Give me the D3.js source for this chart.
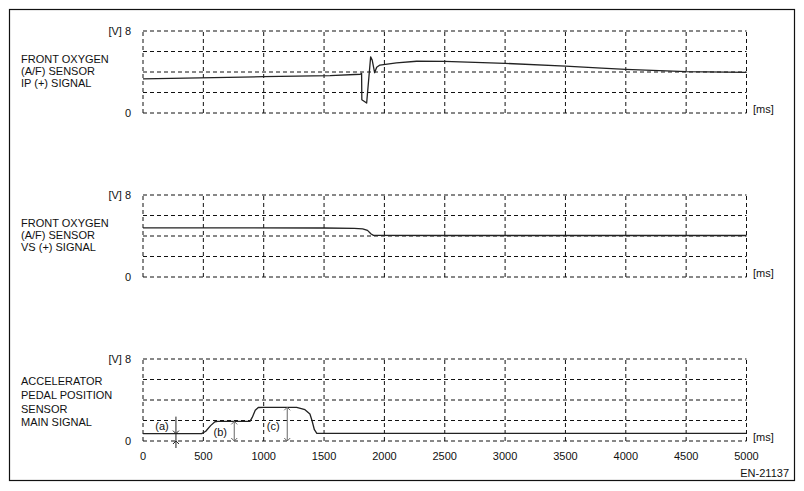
<!DOCTYPE html>
<html>
<head>
<meta charset="utf-8">
<script src="https://cdn.jsdelivr.net/npm/d3@7"></script>
<style>
  body { margin: 0; background: #fff; }
  text { font-family: "Liberation Sans", Arial, sans-serif; fill: #111; }
</style>
</head>
<body>
<div id="chart"></div>
<script>
// time axis (ms) and voltage grid (V)
const xTicks = [0, 500, 1000, 1500, 2000, 2500, 3000, 3500, 4000, 4500, 5000];
const yTicks = [0, 2, 4, 6, 8];

// front oxygen (A/F) sensor IP (+) signal: [ms, V]
const ipSignal = [
  [0, 3.32], [1000, 3.54], [1550, 3.64], [1800, 3.78], [1811, 3.87],
  [1813, 1.29], [1853, 0.97], [1886, 5.48], [1899, 5.16], [1919, 3.93],
  [1936, 4.46], [1963, 4.68], [2100, 4.9], [2267, 5.05], [2500, 5.03],
  [3000, 4.84], [3500, 4.58], [3800, 4.38], [4000, 4.25], [4500, 4.03], [5000, 3.97]
];

// front oxygen (A/F) sensor VS (+) signal
const vsSignal = [
  [0, 4.8], [1500, 4.78], [1750, 4.75], [1820, 4.7], [1860, 4.55],
  [1890, 4.2], [1910, 4.06], [2500, 4.05], [5000, 4.05]
];

// accelerator pedal position sensor main signal
const appsSignal = [
  [0, 0.72], [486, 0.72], [520, 0.95], [560, 1.5], [596, 1.88], [620, 1.91],
  [886, 1.91], [905, 2.3], [930, 3.0], [955, 3.27], [1000, 3.29], [1273, 3.29],
  [1342, 3.06], [1383, 2.64], [1400, 2.0], [1420, 1.1], [1440, 0.74], [5000, 0.74]
];

const panelLabels = [
  ["FRONT OXYGEN", "(A/F) SENSOR", "IP (+) SIGNAL"],
  ["FRONT OXYGEN", "(A/F) SENSOR", "VS (+) SIGNAL"],
  ["ACCELERATOR", "PEDAL POSITION", "SENSOR", "MAIN SIGNAL"]
];

// measurement markers on the pedal signal
const markerLabels = ["(a)", "(b)", "(c)"];
const markerTimes = [273, 756, 1195];
const markerValues = [0.72, 1.91, 3.29];

const width = 804, height = 491;
const panelTops = [31, 195, 359];
const panelH = 82;

const svg = d3.select("#chart")
  .append("svg")
  .attr("width", width)
  .attr("height", height);

// outer frame
svg.append("rect")
  .attr("x", 9.5).attr("y", 9.5)
  .attr("width", 785).attr("height", 471)
  .attr("fill", "none")
  .attr("stroke", "#111")
  .attr("stroke-width", 1.2);

const x = d3.scaleLinear().domain([0, 5000]).range([143, 746.5]);

const signals = [ipSignal, vsSignal, appsSignal];
const line = d3.line().x(d => x(d[0]));

panelTops.forEach((top, i) => {
  const y = d3.scaleLinear().domain([0, 8]).range([top + panelH, top]);
  const g = svg.append("g");

  // dashed grid
  g.selectAll(".hgrid")
    .data(yTicks)
    .enter().append("line")
    .attr("x1", x(0)).attr("x2", x(5000))
    .attr("y1", d => y(d)).attr("y2", d => y(d))
    .attr("stroke", "#111").attr("stroke-width", 1)
    .attr("stroke-dasharray", "4,3");

  g.selectAll(".vgrid")
    .data(xTicks)
    .enter().append("line")
    .attr("x1", d => x(d)).attr("x2", d => x(d))
    .attr("y1", y(0)).attr("y2", y(8))
    .attr("stroke", "#111").attr("stroke-width", 1)
    .attr("stroke-dasharray", "4,3");

  // axis labels
  g.append("text")
    .attr("x", 131).attr("y", y(8) + 4)
    .attr("text-anchor", "end")
    .style("font-size", "11px")
    .text("[V] 8");
  g.append("text")
    .attr("x", 131).attr("y", y(0) + 4)
    .attr("text-anchor", "end")
    .style("font-size", "11px")
    .text("0");
  g.append("text")
    .attr("x", 753).attr("y", y(0) - 0.5)
    .style("font-size", "11px")
    .text("[ms]");

  // panel title
  const step = i === 2 ? 13.8 : 12.2;
  const first = i === 2 ? top + 26 : top + 31.5;
  g.selectAll(".lbl")
    .data(panelLabels[i])
    .enter().append("text")
    .attr("x", 21)
    .attr("y", (d, k) => first + k * step)
    .style("font-size", "11px")
    .text(d => d);

  // signal trace
  g.append("path")
    .datum(signals[i])
    .attr("d", line.y(d => y(d[1])))
    .attr("fill", "none")
    .attr("stroke", "#222")
    .attr("stroke-width", 1.3)
    .attr("stroke-linejoin", "round");

  if (i === 2) {
    // x tick labels
    g.selectAll(".xt")
      .data(xTicks)
      .enter().append("text")
      .attr("x", d => x(d))
      .attr("y", 460)
      .attr("text-anchor", "middle")
      .style("font-size", "11px")
      .text(d => d);

    const ah = 3; // arrowhead size
    markerTimes.forEach((t, k) => {
      const mx = x(t), y0 = y(0), y1 = y(markerValues[k]);
      const mg = g.append("g")
        .attr("fill", "none")
        .attr("stroke", k === 0 ? "#222" : "#666")
        .attr("stroke-width", 1);
      if (k === 0) {
        // pointer from outside: down onto signal, up onto zero
        mg.append("line").attr("x1", mx).attr("x2", mx)
          .attr("y1", y1 - 17).attr("y2", y0 + 7);
        mg.append("path").attr("d", `M${mx - ah},${y1 - ah}L${mx},${y1}L${mx + ah},${y1 - ah}`);
        mg.append("path").attr("d", `M${mx - ah},${y0 + ah}L${mx},${y0}L${mx + ah},${y0 + ah}`);
      } else {
        mg.append("line").attr("x1", mx).attr("x2", mx)
          .attr("y1", y1).attr("y2", y0);
        mg.append("path").attr("d", `M${mx - ah},${y1 + ah}L${mx},${y1}L${mx + ah},${y1 + ah}`);
        mg.append("path").attr("d", `M${mx - ah},${y0 - ah}L${mx},${y0}L${mx + ah},${y0 - ah}`);
      }
      g.append("text")
        .attr("x", mx - (k === 0 ? 14 : 14))
        .attr("y", k === 1 ? (y0 + y1) / 2 + 4.5 : y0 - 11.5)
        .attr("text-anchor", "middle")
        .style("font-size", "11px")
        .text(markerLabels[k]);
    });
  }
});

svg.append("text")
  .attr("x", 789).attr("y", 476.5)
  .attr("text-anchor", "end")
  .style("font-size", "11px")
  .text("EN-21137");
</script>
</body>
</html>
